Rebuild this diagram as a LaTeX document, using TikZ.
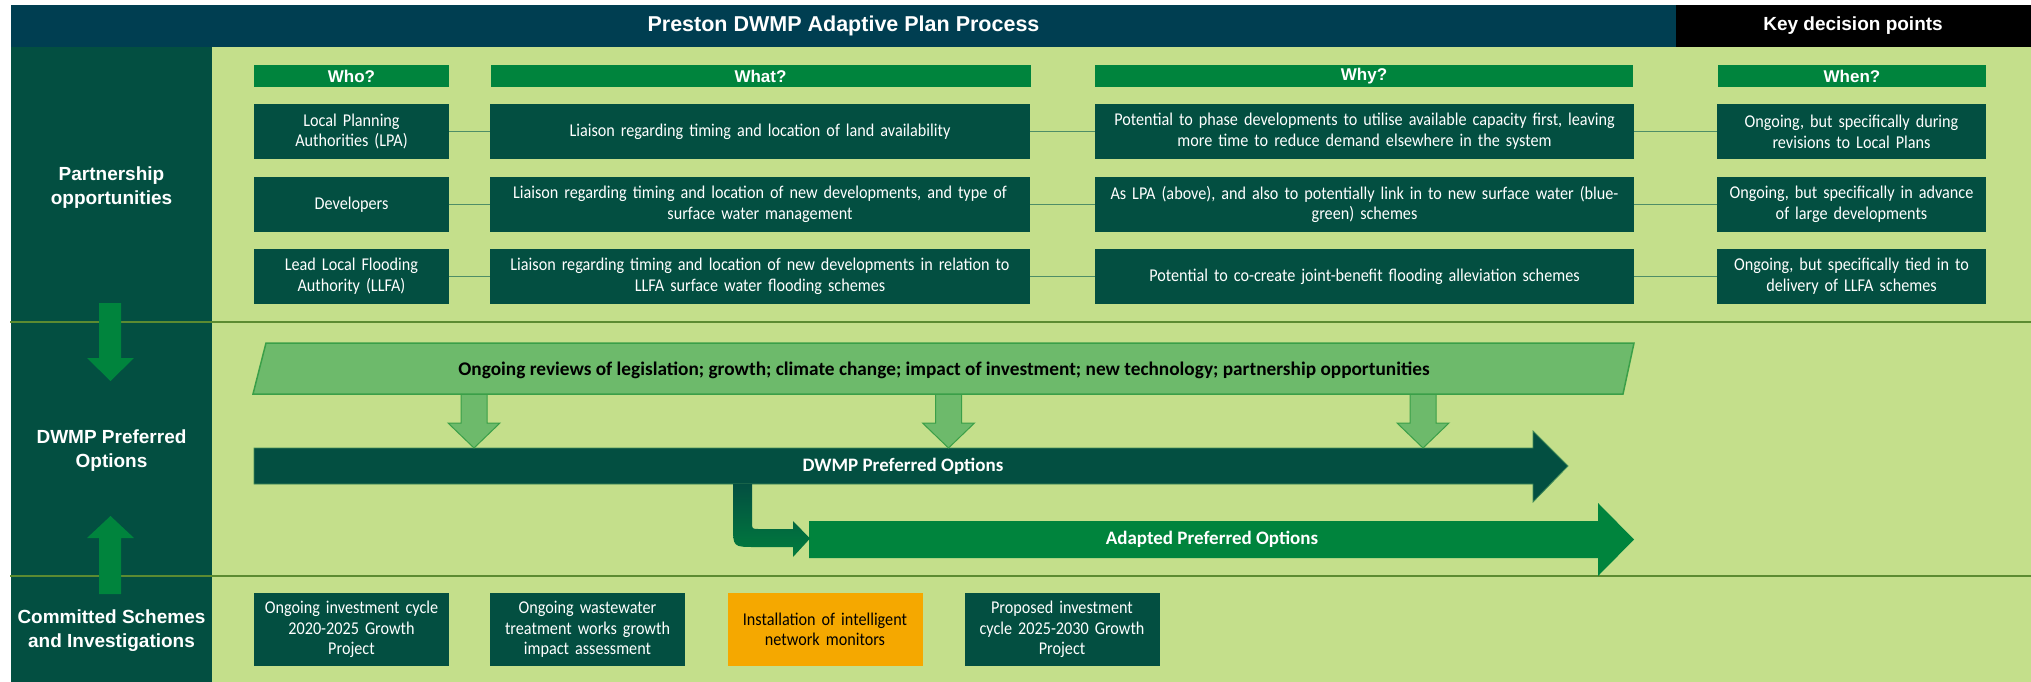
\documentclass[tikz,border=0pt]{standalone}
\usepackage{fontspec}
\setmainfont{Carlito}
\newfontfamily\arialf{Liberation Sans}
\newfontfamily\calc[FakeStretch=0.9]{Carlito}
\definecolor{titleblue}{HTML}{003E51}
\definecolor{dgreen}{HTML}{034F41}
\definecolor{hgreen}{HTML}{00843D}
\definecolor{lgreen}{HTML}{C4DF8B}
\definecolor{paraf}{HTML}{6DBA6B}
\definecolor{parad}{HTML}{3A9F48}
\definecolor{olive}{HTML}{5C8B31}
\definecolor{connc}{HTML}{4F8E66}
\definecolor{orangec}{HTML}{F5A800}
\definecolor{dborder}{HTML}{3F8A58}
\newcommand\smalldown[1]{\fill[paraf,draw=parad,line width=1pt] (#1-13,394) -- (#1+13,394) -- (#1+13,423) -- (#1+26,423) -- (#1,448) -- (#1-26,423) -- (#1-13,423) -- cycle;}
\begin{document}
\begin{tikzpicture}[x=1pt,y=-1pt,
  hdr/.style={fill=hgreen,text=white,font=\arialf\bfseries\fontsize{17}{20}\selectfont,inner sep=0pt,minimum height=22pt,align=center},
  box/.style={fill=dgreen,text=white,font=\calc\fontsize{18}{20.7}\selectfont,inner sep=0pt,minimum height=55pt,align=center},
  cbox/.style={fill=dgreen,text=white,font=\calc\fontsize{18}{20.5}\selectfont,inner sep=0pt,minimum height=73pt,text width=195pt,align=center},
  side/.style={text=white,font=\arialf\bfseries\fontsize{19}{24}\selectfont,align=center,inner sep=0pt},
  conn/.style={draw=connc,line width=1.5pt},
  sep/.style={draw=olive,line width=2pt},
  barlabel/.style={text=white,font=\bfseries\fontsize{19}{22}\selectfont,inner sep=0pt}]
\useasboundingbox (0,0) rectangle (2031,682);
\fill[white] (0,0) rectangle (2031,682);
% top bars
\fill[titleblue] (11,5) rectangle (1676,47);
\fill[black] (1676,5) rectangle (2031,47);
\node[text=white,font=\arialf\bfseries\fontsize{21.5}{24}\selectfont] (title) at (843.5,26) {Preston DWMP Adaptive Plan Process};
\node[text=white,font=\arialf\bfseries\fontsize{19}{22}\selectfont] (key) at (1853,26) {Key decision points};
% columns
\fill[dgreen] (11,47) rectangle (212,682);
\fill[lgreen] (212,47) rectangle (2031,682);
\draw[sep] (10,322) -- (2031,322);
\draw[sep] (10,576) -- (2031,576);
% side labels
\node[side] (lab1) at (111.5,188) {Partnership\\opportunities};
\node[side] (lab2) at (111.5,451) {DWMP Preferred\\Options};
\node[side] (lab3) at (111.5,631) {Committed Schemes\\and Investigations};
% side arrows
\fill[hgreen] (99,303) -- (121,303) -- (121,358) -- (134,358) -- (110.5,381) -- (87,358) -- (99,358) -- cycle;
\fill[hgreen] (99,594) -- (121,594) -- (121,538) -- (134,538) -- (110.5,516) -- (87,538) -- (99,538) -- cycle;
% headers
\node[hdr,text width=195pt] (hwho) at (351.5,76) {Who?};
\node[hdr,text width=540pt] (hwhat) at (760.5,76) {What?};
\node[hdr,text width=538pt] (hwhy) at (1364,76) {Why?};
\node[hdr,text width=268pt] (hwhen) at (1852,76) {When?};
% row 1
\node[box,text width=195pt] (who1) at (351.5,131.5) {Local Planning\\Authorities (LPA)};
\node[box,text width=540pt] (what1) at (760,131.5) {Liaison regarding timing and location of land availability};
\node[box,text width=539pt] (why1) at (1364.5,131.5) {Potential to phase developments to utilise available capacity first, leaving\\more time to reduce demand elsewhere in the system};
\node[box,text width=269pt] (when1) at (1851.5,131.5) {Ongoing, but specifically during\\revisions to Local Plans};
% row 2
\node[box,text width=195pt] (who2) at (351.5,204.5) {Developers};
\node[box,text width=540pt] (what2) at (760,204.5) {Liaison regarding timing and location of new developments, and type of\\surface water management};
\node[box,text width=539pt] (why2) at (1364.5,204.5) {As LPA (above), and also to potentially link in to new surface water (blue-\\green) schemes};
\node[box,text width=269pt] (when2) at (1851.5,204.5) {Ongoing, but specifically in advance\\of large developments};
% row 3
\node[box,text width=195pt] (who3) at (351.5,276.5) {Lead Local Flooding\\Authority (LLFA)};
\node[box,text width=540pt] (what3) at (760,276.5) {Liaison regarding timing and location of new developments in relation to\\LLFA surface water flooding schemes};
\node[box,text width=539pt] (why3) at (1364.5,276.5) {Potential to co-create joint-benefit flooding alleviation schemes};
\node[box,text width=269pt] (when3) at (1851.5,276.5) {Ongoing, but specifically tied in to\\delivery of LLFA schemes};
% connectors
\foreach \r in {1,2,3}{
  \draw[conn] (who\r.east) -- (what\r.west);
  \draw[conn] (what\r.east) -- (why\r.west);
  \draw[conn] (why\r.east) -- (when\r.west);
}
% DWMP preferred options arrow
\fill[dgreen,draw=dborder,line width=0.8pt] (254,448) -- (1533,448) -- (1533,431) -- (1568,466) -- (1533,502) -- (1533,484) -- (254,484) -- cycle;
\node[barlabel] (dwmp) at (903,466) {DWMP Preferred Options};
% adapted arrow
\fill[hgreen] (809,521) -- (1598,521) -- (1598,503) -- (1634,539.5) -- (1598,576) -- (1598,558) -- (809,558) -- cycle;
\node[barlabel] (adapt) at (1212,539.5) {Adapted Preferred Options};
% bent arrow
\shade[top color=dgreen,bottom color=hgreen!85!dgreen] (733,484) -- (733,525) .. controls (733,547) .. (755,547) -- (793,547) -- (793,557) -- (810,538.5) -- (793,521) -- (793,529) -- (759,529) .. controls (752,529) .. (752,522) -- (752,484) -- cycle;
% small arrows and parallelogram
\smalldown{474}
\smalldown{948.5}
\smalldown{1423}
\fill[paraf,draw=parad,line width=1.5pt] (266,343) -- (1634,343) -- (1623,394) -- (253,394) -- cycle;
\node[font=\bfseries\fontsize{19.3}{22}\selectfont,text=black] (rev) at (944,370) {Ongoing reviews of legislation; growth; climate change; impact of investment; new technology; partnership opportunities};
% committed schemes
\node[cbox] (c1) at (351.5,629.5) {Ongoing investment cycle\\2020-2025 Growth\\Project};
\node[cbox] (c2) at (587.5,629.5) {Ongoing wastewater\\treatment works growth\\impact assessment};
\node[cbox,fill=orangec,text=black] (c3) at (825,629.5) {Installation of intelligent\\network monitors};
\node[cbox] (c4) at (1062,629.5) {Proposed investment\\cycle 2025-2030 Growth\\Project};
\end{tikzpicture}
\end{document}
